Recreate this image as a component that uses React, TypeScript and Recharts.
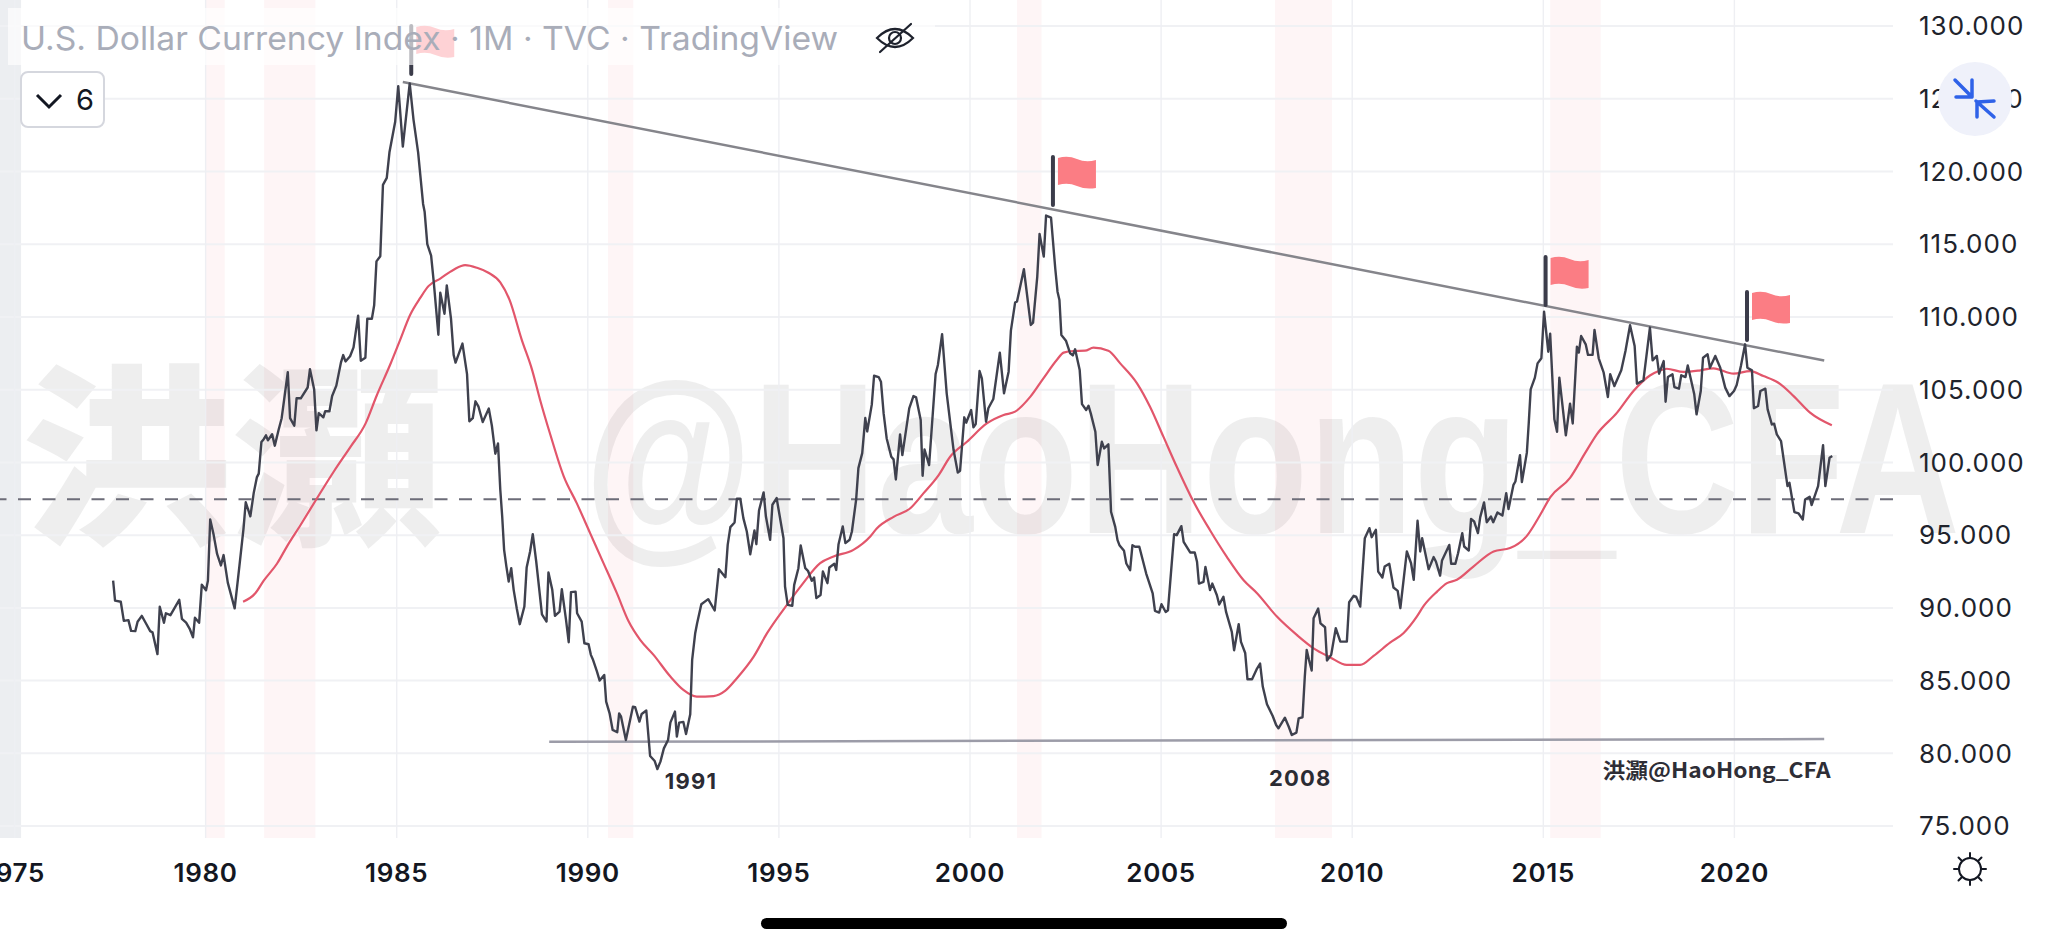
import React from 'react';
import { LineChart, Line, XAxis, YAxis, ReferenceArea, ReferenceLine, ReferenceDot } from 'recharts';

const priceYears = [
1977.58,1977.63,1977.78,1977.86,1977.98,1978.05,1978.16,1978.22,1978.33,1978.43,1978.55,1978.61,1978.74,1978.8,1978.91,1978.96,
1979.08,1979.31,1979.38,1979.49,1979.58,1979.67,1979.72,1979.83,1979.9,1980.01,1980.06,1980.12,1980.21,1980.3,1980.4,1980.47,1980.58,1980.76,1980.88,1980.99,
1981.05,1981.17,1981.26,1981.34,1981.39,1981.46,1981.52,1981.58,1981.63,1981.74,1981.81,1981.91,1981.99,1982.15,1982.21,1982.32,1982.38,1982.49,1982.67,1982.73,1982.84,1982.9,1982.96,
1983.08,1983.13,1983.24,1983.31,1983.42,1983.54,1983.6,1983.66,1983.78,1983.87,1983.99,1984.06,1984.18,1984.23,1984.35,1984.41,1984.47,1984.57,1984.64,1984.74,1984.81,1984.96,
1985.04,1985.16,1985.34,1985.44,1985.56,1985.69,1985.73,1985.8,1985.9,1985.97,1986.09,1986.14,1986.25,1986.31,1986.42,1986.49,1986.54,1986.72,1986.84,1986.9,1986.99,
1987.06,1987.14,1987.25,1987.41,1987.49,1987.58,1987.65,1987.71,1987.76,1987.81,1987.87,1987.93,1987.996,1988.06,1988.14,1988.22,1988.34,1988.4,1988.49,1988.56,1988.65,1988.74,1988.8,1988.92,1988.97,
1989.07,1989.14,1989.26,1989.32,1989.43,1989.5,1989.56,1989.68,1989.72,1989.84,1989.91,1990.02,1990.08,1990.13,1990.24,1990.31,1990.43,1990.48,1990.57,1990.65,1990.77,1990.82,1990.87,1990.996,
1991.18,1991.24,1991.35,1991.41,1991.53,1991.63,1991.75,1991.82,1991.9,1991.99,1992.1,1992.16,1992.28,1992.33,1992.39,1992.5,1992.57,1992.68,1992.73,1992.81,1992.86,1992.97,
1993.15,1993.32,1993.43,1993.6,1993.66,1993.73,1993.84,1993.9,1993.99,1994.07,1994.16,1994.25,1994.36,1994.41,1994.48,1994.6,1994.66,1994.77,1994.83,1994.94,
1995.12,1995.16,1995.23,1995.35,1995.4,1995.51,1995.57,1995.69,1995.76,1995.86,1995.92,1995.98,1996.09,1996.15,1996.27,1996.32,1996.45,1996.5,1996.56,1996.67,1996.74,1996.85,1996.91,
1997.02,1997.08,1997.18,1997.26,1997.31,1997.43,1997.49,1997.61,1997.67,1997.74,1997.82,1997.94,1998.0,1998.06,1998.17,1998.23,1998.41,1998.52,1998.59,1998.71,1998.76,1998.81,1998.93,
1999.1,1999.16,1999.27,1999.39,1999.57,1999.68,1999.74,1999.85,1999.9,2000.03,2000.09,2000.15,2000.25,2000.31,2000.42,2000.48,2000.61,2000.78,2000.89,
2001.01,2001.07,2001.18,2001.23,2001.41,2001.59,2001.65,2001.76,2001.82,2001.93,2001.99,2002.12,2002.23,2002.29,2002.34,2002.39,2002.51,2002.62,2002.69,2002.75,2002.87,2002.93,
2003.04,2003.1,2003.16,2003.28,2003.34,2003.45,2003.51,2003.62,2003.69,2003.8,2003.86,2003.91,2004.03,2004.09,2004.19,2004.25,2004.32,2004.43,2004.61,2004.78,2004.84,2004.95,
2005.01,2005.12,2005.18,2005.34,2005.41,2005.53,2005.59,2005.76,2005.88,2005.94,2005.99,2006.11,2006.16,2006.28,2006.34,2006.46,2006.52,2006.63,2006.7,2006.85,2006.91,
2007.03,2007.09,2007.2,2007.26,2007.38,2007.51,2007.59,2007.66,2007.77,2007.92,2008.01,2008.07,2008.24,2008.34,2008.42,2008.54,2008.6,2008.7,2008.76,2008.81,2008.87,2008.94,2008.99,
2009.11,2009.17,2009.29,2009.34,2009.45,2009.57,2009.69,2009.86,2009.92,2010.04,2010.1,2010.21,2010.33,2010.45,2010.51,2010.62,2010.68,2010.79,2010.85,2010.97,
2011.08,2011.19,2011.26,2011.43,2011.54,2011.61,2011.71,2011.78,2011.83,2012.0,2012.13,2012.19,2012.3,2012.35,2012.54,2012.59,2012.7,2012.77,2012.88,2012.93,
2013.05,2013.11,2013.19,2013.29,2013.35,2013.45,2013.52,2013.63,2013.69,2013.8,2013.93,2014.03,2014.09,2014.22,2014.27,2014.39,2014.44,2014.57,2014.62,2014.67,2014.78,2014.85,2014.95,
2015.02,2015.13,2015.18,2015.29,2015.36,2015.42,2015.59,2015.7,2015.77,2015.88,2015.93,2015.99,2016.11,2016.17,2016.29,2016.34,2016.45,2016.58,2016.69,2016.75,2016.86,
2017.04,2017.15,2017.27,2017.39,2017.45,2017.62,2017.79,2017.86,2017.97,2018.03,2018.15,2018.2,2018.26,2018.38,2018.43,2018.55,2018.61,2018.72,2018.78,2018.95,
2019.01,2019.12,2019.18,2019.3,2019.36,2019.5,2019.63,2019.76,2019.87,2019.99,2020.06,2020.17,2020.28,2020.34,2020.46,2020.51,2020.62,2020.68,2020.81,2020.87,2020.98,
2021.04,2021.11,2021.22,2021.39,2021.44,2021.57,2021.68,2021.79,2021.85,2021.97,2022.02,2022.19,2022.32,2022.38,2022.49,2022.56,
];

const priceValues = [
91.87,90.5,90.42,89.11,89.16,88.42,88.4,89.05,89.45,88.98,88.4,88.32,86.82,90.08,88.98,89.63,
89.5,90.55,89.24,88.98,88.58,87.98,89.32,88.98,91.6,91.21,91.87,96.08,95.02,93.71,92.92,93.63,91.74,89.97,92.79,95.42,
97.26,96.29,97.92,98.97,99.23,101.41,101.6,101.86,101.52,101.94,101.15,102.25,103.04,106.2,103.04,102.52,104.41,104.41,105.15,106.41,105.02,102.2,103.39,
103.1,103.52,103.52,104.57,105.28,106.86,107.38,106.94,107.3,107.91,110.09,106.99,107.2,109.88,109.88,110.8,113.82,114.17,119.08,119.56,121.32,123.42,
125.87,121.71,126.05,123.55,121.32,117.77,117.24,115.01,114.22,112.38,108.78,111.67,110.22,112.17,109.88,107.38,106.86,108.17,106.07,102.83,103.04,
104.2,103.83,102.78,103.7,102.52,100.6,101.3,98.12,96.28,93.99,92.84,91.81,92.73,91.24,89.98,88.88,90.09,92.78,93.88,95.07,93.19,91.01,89.56,89.06,92.43,
91.24,89.45,89.75,91.28,89.17,87.64,91.08,91.12,89.63,89.06,87.57,87.5,86.77,86.47,85.62,85,85.39,83.56,82.75,81.61,81.45,82.75,82.52,80.92,
83.21,83.17,82.18,82.71,82.94,79.82,79.47,78.92,79.43,80.34,80.92,82.11,82.87,81.15,82.11,82.16,81.33,82.68,86.42,88.26,88.94,90.25,
90.6,89.82,92.66,92.11,94.33,95.55,95.87,97.5,97.5,96.17,95.25,93.69,95.32,94.38,96.7,97.94,96.28,94.68,97.09,97.55,
94.79,91.47,90.21,90.14,91.58,92.73,94.29,92.73,92.55,91.86,92.09,90.67,90.89,92.5,91.7,92.78,93.03,92.61,94.38,95.6,94.45,94.68,95.25,
97.43,99.61,100.64,103.05,102.13,103.97,105.96,105.87,105.55,103.37,101.65,100.39,100.21,98.83,101.93,100.5,103.72,104.56,104.47,102.91,99.08,100.89,99.82,
106.08,106.7,108.81,104.75,100.85,99.31,99.43,103.1,102.73,103.6,102.41,102.64,106.28,105.78,102.8,103.72,104.36,107.55,104.75,
106.24,109.06,110.99,111.06,113.28,109.45,109.61,112.78,115.71,114.15,116.97,116.83,113.35,111.74,111.17,108.76,108.37,107.5,107.36,107.78,106.35,104.01,
103.6,103.9,103.37,102.11,99.82,101.42,100.96,101.24,96.61,95.57,94.66,94.31,93.92,93.05,92.59,94.31,94.2,94.2,92.36,90.99,89.79,89.68,
90.25,89.72,89.84,95.07,95,95.62,94.54,93.81,93.81,93.17,91.67,91.79,92.82,91.22,91.67,90.87,90.23,90.76,89.72,88.35,87.09,
88.88,87.66,86.9,85.09,85.09,85.83,86.17,84.59,83.37,82.57,81.95,81.72,82.45,81.83,81.26,81.42,82.41,82.48,85.28,87.11,86.42,85.69,89.29,
89.95,88.94,88.67,86.38,86.77,88.6,87.68,87.68,90.39,90.83,90.78,90.09,94.79,95.48,94.86,95.37,92.5,92.09,92.84,93.03,
91.4,91.17,89.98,93.88,93.07,91.93,95.99,93.88,94.79,92.66,93.49,93.19,92.22,93.26,94.33,93.03,93.03,93.76,95.14,94.22,
93.94,96.12,95.94,95.14,96.24,97.25,95.89,96.28,95.89,96.56,96.35,97.89,96.79,98.46,98.69,100.5,98.65,100.67,102.73,105.02,105.83,106.81,107.16,
110.37,107.61,108.85,102.96,102.11,105.83,101.86,104.04,102.68,107.96,107.55,108.69,108.12,107.39,107.39,109.11,107.16,106.17,104.5,106.06,105.25,
106.33,107.66,109.43,108,105.41,105.64,109.27,107.02,107.32,106.1,106.97,104.17,105.87,106.06,105.18,105.07,105.99,105.87,106.67,104.68,
103.3,104.91,107.2,107.43,106.51,107.32,106.51,105.14,104.56,104.91,105.32,106.63,108.12,106.51,106.33,103.72,103.88,104.91,105.07,103.65,102.61,
102.66,101.93,101.47,98.37,98.6,96.58,96.49,96.08,97.45,97.64,97.07,98.37,101.19,98.37,100.32,100.44,
];

const averageYears = [
1980.98,1981.3,1981.52,1981.87,1982.13,1982.48,1982.91,1983.35,1983.79,1984.18,1984.48,1984.83,1985.09,1985.35,1985.62,1985.83,1986.14,1986.49,1986.79,1987.1,1987.4,1987.71,
1987.95,1988.27,1988.54,1988.75,1989.02,1989.37,1989.71,1990.06,1990.41,1990.76,1991.07,1991.37,1991.72,1992.16,1992.5,1992.85,1993.29,1993.6,1993.9,1994.34,1994.69,1995.21,1995.6,1996.08,1996.43,1996.95,
1997.39,1997.56,1998.0,1998.43,1998.78,1999.18,1999.48,1999.92,2000.44,2000.88,2001.18,2001.58,2001.92,2002.27,2002.45,2002.71,2003.01,2003.23,2003.62,2003.93,2004.37,2004.71,2005.06,2005.41,2005.85,2006.28,2006.72,2007.16,
2007.51,2008.03,2008.55,2008.99,2009.42,2009.86,2010.21,2010.56,2010.99,2011.34,2011.69,2011.87,2012.22,2012.48,2012.74,2013.17,2013.7,2014.13,2014.57,2014.92,2015.18,
2015.7,2016.1,2016.4,2016.93,2017.36,2017.8,2018.02,2018.23,2018.67,2019.11,2019.45,2019.98,2020.41,2020.76,2021.15,2021.55,2021.98,2022.55,
];

const averageValues = [
90.42,91,91.87,93.05,94.23,95.68,97.52,99.36,101.07,102.65,104.62,106.73,108.43,110.14,111.33,112.12,112.64,113.25,113.56,113.38,113.04,112.38,
111.19,108.44,106.38,104.31,101.9,99.04,97.2,95.14,93.08,91.01,89.06,87.8,86.77,85.28,84.36,83.9,83.94,84.31,85.16,86.65,88.26,90.21,91.58,93.07,93.53,93.99,
94.91,95.46,96.26,96.83,97.87,99.13,100.39,101.42,102.68,103.26,103.49,104.52,105.78,107.04,107.55,107.66,107.68,107.89,107.68,106.81,105.44,103.83,101.77,99.7,97.29,95.34,93.51,91.9,
91.01,89.4,88.14,87.22,86.61,86.08,86.08,86.7,87.61,88.26,89.4,90.14,91.12,91.7,91.93,92.84,93.88,94.11,94.95,96.4,97.6,
98.94,100.67,101.93,103.42,104.91,105.99,106.28,106.44,106.22,106.33,106.47,106.1,106.28,105.94,105.48,104.56,103.42,102.55,
];

const yearTicks = [1975, 1980, 1985, 1990, 1995, 2000, 2005, 2010, 2015, 2020];
const priceTicks = [75, 80, 85, 90, 95, 100, 105, 110, 115, 120, 125, 130];
const shadedStart = [1980.0, 1981.53, 1990.53, 2001.23, 2007.98, 2015.18];
const shadedEnd = [1980.5, 1982.87, 1991.19, 2001.87, 2009.47, 2016.5];
const flagYears = [1985.38, 2002.17, 2015.06, 2020.33];
const flagValues = [126.7, 117.7, 110.82, 108.42];
const noteYears = [1992.7, 2008.64];
const noteValues = [78.1, 78.28];
const noteLabels = ['1991', '2008'];
const levelValue = 97.47;
const resistanceYears = [1985.16, 2022.35];
const resistanceValues = [126.15, 107.0];
const supportYears = [1988.99, 2022.35];
const supportValues = [80.79, 80.98];
const titleText = 'U.S. Dollar Currency Index · 1M · TVC · TradingView';
const signature = '洪灝@HaoHong_CFA';

const priceData = priceYears.map((year, i) => ({ year, value: priceValues[i] }));
const averageData = averageYears.map((year, i) => ({ year, value: averageValues[i] }));

const UI = 'Inter, "Noto Sans", sans-serif';
const CJK = '"Noto Sans CJK SC", "Liberation Sans", sans-serif';

const FlagShape = (props: any) => {
  const { cx, cy } = props;
  const fx = cx + 5;
  const fy = cy - 48;
  return (
    <g>
      <path
        d={`M${fx} ${fy + 1} Q${fx + 10} ${fy - 2} ${fx + 19} ${fy + 2} T${fx + 38} ${fy + 3} L${fx + 38} ${fy + 31} Q${fx + 28} ${fy + 33} ${fx + 19} ${fy + 29} T${fx} ${fy + 28} Z`}
        fill="#fb7d84"
      />
      <line x1={cx} y1={cy} x2={cx} y2={fy} stroke="#3b3c4a" strokeWidth={4} strokeLinecap="round" />
    </g>
  );
};

const NoteShape = (props: any) => (
  <text
    x={props.cx}
    y={props.cy + 8}
    textAnchor="middle"
    fontFamily={UI}
    fontWeight={700}
    fontSize={22}
    fill="#2b2b33"
    letterSpacing={1.2}
  >
    {props.label}
  </text>
);

export default function App() {
  return (
    <div style={{ position: 'absolute', left: 0, top: 0, width: 2048, height: 947, background: '#fff', overflow: 'hidden' }}>
      <svg width={2048} height={947} style={{ position: 'absolute', left: 0, top: 0 }}>
        <text x={20} y={530} fontFamily={CJK} fontWeight={900} fontSize={195} fill="#707072" fillOpacity={0.12} textLength={425} lengthAdjust="spacingAndGlyphs">
          洪灝
        </text>
        <text x={584} y={533} fontFamily='"Liberation Sans", Arial, sans-serif' fontWeight={700} fontSize={215} fill="#707072" fillOpacity={0.12} textLength={1376} lengthAdjust="spacingAndGlyphs">
          @HaoHong_CFA
        </text>
      </svg>
      <div style={{ position: 'absolute', left: 0, top: 0 }}>
        <LineChart width={2048} height={947} margin={{ top: 0, right: 0, bottom: 0, left: 0 }}>
          <XAxis
            type="number"
            dataKey="year"
            domain={[1974.62, 2024.15]}
            ticks={yearTicks}
            interval={0}
            height={109}
            axisLine={false}
            tickLine={false}
            tickMargin={20}
            allowDataOverflow
            tick={{ fontSize: 26, fontWeight: 600, fontFamily: UI, fill: '#131722', letterSpacing: 0.7 }}
          />
          <YAxis
            orientation="right"
            type="number"
            domain={[74.18, 131.79]}
            ticks={priceTicks}
            interval={0}
            width={155}
            axisLine={false}
            tickLine={false}
            tickMargin={20}
            allowDataOverflow
            tickFormatter={(v: number) => v.toFixed(3)}
            tick={{ fontSize: 26, fontFamily: UI, fill: '#20232c', textAnchor: 'start', letterSpacing: 1 }}
          />
          {priceTicks.map((t) => (
            <ReferenceLine key={t} y={t} stroke="#f0f1f4" strokeWidth={2} />
          ))}
          {yearTicks.map((t) => (
            <ReferenceLine key={t} x={t} stroke="#eeeff3" strokeWidth={1.4} />
          ))}
          <ReferenceArea x1={1974.62} x2={1975.17} fill="#e9ebef" fillOpacity={0.85} stroke="none" />
          {shadedStart.map((s, i) => (
            <ReferenceArea key={s} x1={s} x2={shadedEnd[i]} fill="#f23645" fillOpacity={0.05} stroke="none" />
          ))}
          <ReferenceLine y={levelValue} stroke="#6c6c78" strokeWidth={2} strokeDasharray="13 11.5" />
          <ReferenceLine
            segment={[
              { x: supportYears[0], y: supportValues[0] },
              { x: supportYears[1], y: supportValues[1] },
            ]}
            stroke="#9c9ca8"
            strokeWidth={2.5}
          />
          <ReferenceLine
            segment={[
              { x: resistanceYears[0], y: resistanceValues[0] },
              { x: resistanceYears[1], y: resistanceValues[1] },
            ]}
            stroke="#85858b"
            strokeWidth={2.5}
          />
          <Line data={averageData} dataKey="value" name="MA" type="monotone" dot={false} activeDot={false} stroke="#e2566b" strokeWidth={2.2} isAnimationActive={false} />
          <Line data={priceData} dataKey="value" name="DXY" type="linear" dot={false} activeDot={false} stroke="#3f414e" strokeWidth={2.4} strokeLinejoin="round" isAnimationActive={false} />
          {flagYears.map((y, i) => (
            <ReferenceDot key={y} x={y} y={flagValues[i]} r={0} shape={FlagShape} />
          ))}
          {noteYears.map((y, i) => (
            <ReferenceDot key={y} x={y} y={noteValues[i]} r={0} shape={(p: any) => <NoteShape {...p} label={noteLabels[i]} />} />
          ))}
        </LineChart>
      </div>
      <svg width={2048} height={947} style={{ position: 'absolute', left: 0, top: 0, pointerEvents: 'none' }}>
        <rect x={8} y={8} width={927} height={57} fill="#ffffff" fillOpacity={0.66} />
        <text x={21} y={50} fontFamily={UI} fontSize={33} fill="#a9adb9" textLength={817} lengthAdjust="spacingAndGlyphs">
          {titleText}
        </text>
        <g stroke="#1e222d" strokeWidth={2.2} fill="none" strokeLinecap="round">
          <path d="M877 38 Q895 20 913 38 Q895 56 877 38 Z" />
          <circle cx={895} cy={38} r={6} />
          <line x1={880} y1={52} x2={911} y2={24} />
        </g>
        <rect x={21} y={72} width={83} height={55} rx={7} fill="#ffffff" stroke="#d5d7de" strokeWidth={2} />
        <path d="M37 95 L49 107 L61 95" fill="none" stroke="#131722" strokeWidth={3} />
        <text x={76} y={110} fontFamily={UI} fontSize={29} fill="#131722">6</text>
        <text x={1602.5} y={778} fontFamily={CJK} fontWeight={700} fontSize={21} fill="#2e2e36" textLength={228} lengthAdjust="spacingAndGlyphs">
          {signature}
        </text>
        <circle cx={1975} cy={99} r={37} fill="#eff1fa" />
        <g stroke="#2f62e8" strokeWidth={3.5} fill="none" strokeLinecap="round" strokeLinejoin="round">
          <path d="M1955 80 L1972 97 M1972 80 L1972 97 L1956 97" />
          <path d="M1994 117 L1976 101 M1977 117 L1977 102 L1994 101" />
        </g>
        <g stroke="#131722" strokeWidth={2} fill="none" strokeLinecap="round">
          <circle cx={1970} cy={869} r={11} />
          <line x1={1970} y1={853} x2={1970} y2={858} />
          <line x1={1970} y1={880} x2={1970} y2={885} />
          <line x1={1954} y1={869} x2={1959} y2={869} />
          <line x1={1981} y1={869} x2={1986} y2={869} />
          <line x1={1958.5} y1={857.5} x2={1962} y2={861} />
          <line x1={1978} y1={861} x2={1981.5} y2={857.5} />
          <line x1={1958.5} y1={880.5} x2={1962} y2={877} />
          <line x1={1978} y1={877} x2={1981.5} y2={880.5} />
        </g>
        <rect x={761} y={918} width={526} height={11} rx={5.5} fill="#000000" />
      </svg>
    </div>
  );
}
